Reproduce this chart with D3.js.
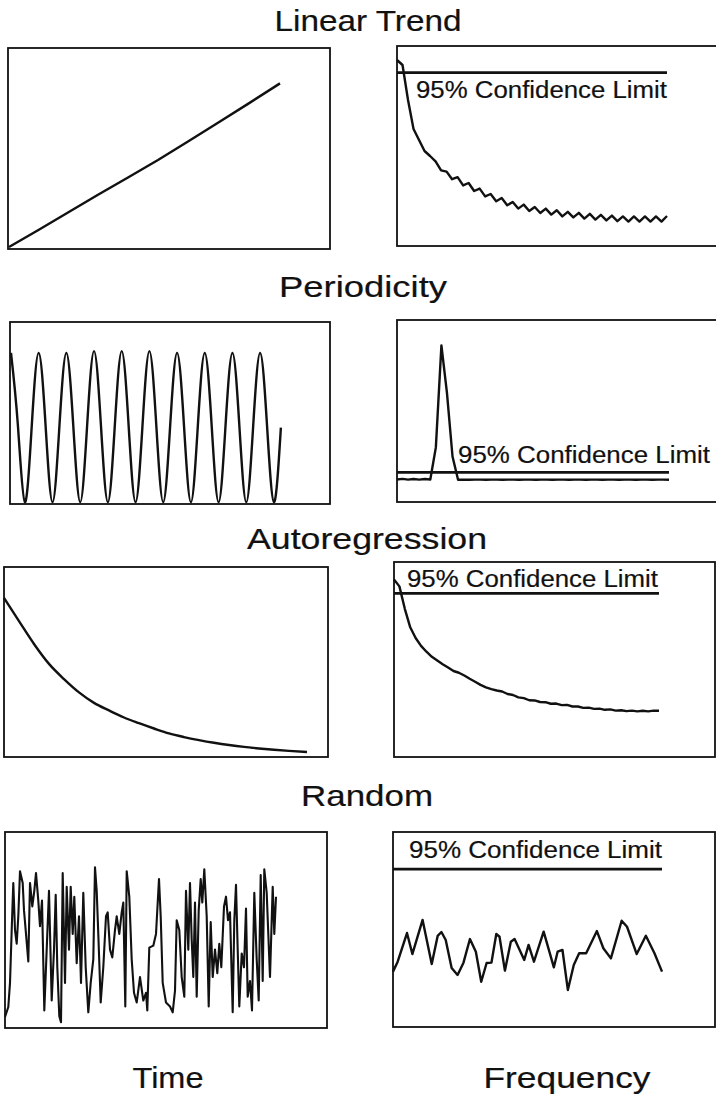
<!DOCTYPE html>
<html>
<head>
<meta charset="utf-8">
<script src="https://cdn.jsdelivr.net/npm/d3@7"></script>
<style>
  html, body { margin: 0; padding: 0; background: #fff; }
  svg { display: block; }
  text { font-family: "Liberation Sans", Arial, Helvetica, sans-serif; fill: #111; stroke: #111; stroke-width: 0.2px; }
</style>
</head>
<body>
<svg id="chart" width="716" height="1096"></svg>
<script>
// ---------------- DATA ----------------
const titles = ["Linear Trend", "Periodicity", "Autoregression", "Random"];
const axisLabels = ["Time", "Frequency"];
const confLabel = "95% Confidence Limit";
// confidence limits (level in % of panel height)
const confLevels = [86.7, 16.3, 83.9, 81.0];

// Linear trend (time domain)
const linearTime = [1, 30, 60, 90, 120, 150, 180, 210, 240, 272];
const linearValues = [1, 9.3, 18.2, 27.0, 35.6, 44.3, 53.5, 62.8, 72.2, 82.4];

// Periodicity (time domain), sampled every quarter period
const periodStart = 1, periodStep = 6.92;
const periodValues = [83,43,1,43, 83,43,1,43, 83,43,1,43, 84,43,1,43, 84,43,1,43,
                      84,43,1,43, 83,43,1,43, 83,43,1,43, 83,43,1,43, 83,43,1,42];

// Autoregression (time domain)
const arTime = [0,15,30,45,60,75,90,105,120,135,150,165,180,195,210,225,240,255,270,285,303];
const arValues = [83.7,71.5,59.5,49,41,34,28.5,24.5,20.8,17.8,15,12.4,10.5,8.9,7.5,6.3,5.3,4.5,3.8,3.2,2.6];

// Random (time domain)
const randomTime = [0,3.3,5,6.7,8.3,10,11.7,13.3,15,17.7,19,21,23.3,25,27.3,29.3,31,33.3,35,37,
  39.3,41.7,44,46.7,49,50.7,52.3,54.3,56,57.7,60,61.7,64,65.7,67.7,69.3,71.7,74,76,78.3,
  80.7,83.3,85.7,88.3,90,91.7,93.3,95.7,98.3,101,102.7,105,107.3,110,111.7,114.3,116.7,118.3,120.3,121.7,
  124.3,126.7,129,131.7,135,138.3,141,142.3,144.3,148.3,151,154,155.7,157.7,161,165,167.7,170,171.7,174.3,
  176.7,179.3,181,183.3,185,186.7,188.3,190,191.7,193.7,195.7,197.3,199.3,201.7,203.7,205.7,207.7,210,212.3,214.3,
  216.3,219,221,223,225,227.7,229.3,231,232.7,234.3,236.7,239,241,242.7,245,247,249.3,251.7,253.7,255.7,
  257.7,259.3,261.7,263.3,265,267.7,269.3,271];
const randomValues = [5.6,10.7,23,50,74,50,43,57,80,74,60,48,34,74,62,70,79,65,52,65,
  9,40,70,14,40,68,31,6,3,79,23,72,40,72,48,67,33,57,23,69,
  31,8,23,35,82,70,48,13,31,57,59,40,36,50,57,48,59,64,11,80,
  67,35,18,13,26,14,18,9,41,42,48,76,57,23,13,11,8,19,55,50,
  26,16,70,40,74,45,26,64,16,60,76,64,81,57,11,54,26,40,28,43,
  31,62,67,55,59,8,55,73,40,11,38,31,61,16,24,9,69,35,14,78,
  24,81,69,48,26,72,48,67];

// Spectra (frequency domain, 0 .. 0.5)
const linearSpec = [93,90.5,73,58.5,53,47.5,45,42.3,37.8,37.2,33.4,34.4,30.3,31.5,27.5,28.7,
  24.8,26.0,22.4,24.0,20.4,22.0,18.7,20.7,17.5,19.5,16.5,18.7,15.7,17.9,14.8,17.1,14.3,16.6,
  13.7,16.1,13.2,15.6,12.8,15.2,12.4,14.8,12.2,14.8,12.2,14.8,12.2,14.8,12.2,15.0];
const periodSpec = [12.4,12.7,12.3,12.6,12.3,12.6,12.4,30,86,60,25,12.2,
  12.3,12.2,12.3,12.3,12.2,12.3,12.3,12.2,12.3,12.3,12.2,12.3,12.3,12.2,12.3,12.3,12.2,12.3,
  12.3,12.2,12.3,12.3,12.2,12.3,12.3,12.2,12.3,12.3,12.2,12.3,12.3,12.2,12.3,12.3,12.2,12.3,12.3,12.2];
const arSpec = [91,87.5,76,66.5,61,57,54,51.4,49.5,47.6,45.9,44.1,43.2,41.8,40.1,38.6,37,35.7,34.8,34.1,
  33.6,32.3,31.8,30.6,30.2,29.1,29.0,28.2,28.1,27.3,27.4,26.6,26.7,25.9,25.9,25.2,25.3,24.7,24.8,24.2,
  24.4,23.8,24.0,23.5,23.8,23.4,23.7,23.4,23.8,23.7];
const randomSpecFreq = [0,0.0087,0.026,0.036,0.055,0.072,0.083,0.090,0.098,0.109,0.120,0.131,0.143,0.154,
  0.164,0.174,0.183,0.192,0.198,0.208,0.219,0.226,0.244,0.252,0.262,0.280,0.299,0.306,0.315,0.325,
  0.336,0.346,0.359,0.379,0.391,0.405,0.425,0.435,0.453,0.470,0.486,0.5];
const randomSpec = [28.4,33.5,48.2,37.4,54.9,32.3,46.7,48.7,44.6,30.3,26.7,33.0,45.1,38.6,
  23.2,32.8,33.0,47.7,46.3,28.9,43.7,45.1,34.4,42.1,33.5,48.9,30.6,38.6,39.5,19.0,
  31.8,37.8,37.8,49.2,40.4,35.2,54.5,51.4,37.4,46.8,37.8,28.4];

// ---------------- LAYOUT ----------------
const layout = [
  { L: [8, 48, 330, 249],  R: [397, 46, 718, 246],  specEnd: 667, titleX: 368, titleY: 31,  titleW: 187, labX: 416, labY: 98,  labW: 251 },
  { L: [10, 322, 330, 504], R: [397, 320, 718, 502], specEnd: 669, titleX: 363, titleY: 297, titleW: 168, labX: 458, labY: 463, labW: 252 },
  { L: [4, 567, 328, 757],  R: [394, 562, 715, 757], specEnd: 659, titleX: 367, titleY: 549, titleW: 240, labX: 407, labY: 587, labW: 251 },
  { L: [5, 832, 327, 1028], R: [393, 832, 715, 1027], specEnd: 662, titleX: 367, titleY: 806, titleW: 132, labX: 409, labY: 858, labW: 253 }
];

const timeSeries = [
  linearTime.map((t, i) => [t, linearValues[i]]),
  periodValues.map((v, i) => [periodStart + i * periodStep, v]),
  arTime.map((t, i) => [t, arValues[i]]),
  randomTime.map((t, i) => [t, randomValues[i]])
];
const spectra = [
  linearSpec.map((v, i) => [i * 0.5 / (linearSpec.length - 1), v]),
  periodSpec.map((v, i) => [i * 0.5 / (periodSpec.length - 1), v]),
  arSpec.map((v, i) => [i * 0.5 / (arSpec.length - 1), v]),
  randomSpecFreq.map((f, i) => [f, randomSpec[i]])
];
const timeCurves = [d3.curveLinear, d3.curveNatural, d3.curveMonotoneX, d3.curveLinear];

// ---------------- DRAW ----------------
const svg = d3.select("#chart");
const ink = "#111";

layout.forEach((row, r) => {
  // title
  svg.append("text")
    .attr("x", row.titleX).attr("y", row.titleY)
    .attr("text-anchor", "middle")
    .attr("font-size", 29)
    .attr("textLength", row.titleW).attr("lengthAdjust", "spacingAndGlyphs")
    .text(titles[r]);

  // ---- left (time) panel
  const [lx0, ly0, lx1, ly1] = row.L;
  svg.append("rect")
    .attr("x", lx0).attr("y", ly0).attr("width", lx1 - lx0).attr("height", ly1 - ly0)
    .attr("fill", "none").attr("stroke", ink).attr("stroke-width", 1.8);
  const xt = d3.scaleLinear().domain([0, lx1 - lx0]).range([lx0, lx1]);
  const yt = d3.scaleLinear().domain([0, 100]).range([ly1, ly0]);
  svg.append("path")
    .datum(timeSeries[r])
    .attr("fill", "none").attr("stroke", ink)
    .attr("stroke-width", r === 3 ? 2.1 : 2.4)
    .attr("stroke-linejoin", "round")
    .attr("d", d3.line().x(d => xt(d[0])).y(d => yt(d[1])).curve(timeCurves[r]));

  // ---- right (frequency) panel
  const [rx0, ry0, rx1, ry1] = row.R;
  svg.append("rect")
    .attr("x", rx0).attr("y", ry0).attr("width", rx1 - rx0).attr("height", ry1 - ry0)
    .attr("fill", "none").attr("stroke", ink).attr("stroke-width", 1.8);
  const xf = d3.scaleLinear().domain([0, 0.5]).range([rx0, row.specEnd]);
  const yf = d3.scaleLinear().domain([0, 100]).range([ry1, ry0]);
  // confidence limit
  svg.append("path")
    .datum([[0, confLevels[r]], [0.5, confLevels[r]]])
    .attr("fill", "none").attr("stroke", ink).attr("stroke-width", 2.8)
    .attr("d", d3.line().x(d => xf(d[0])).y(d => yf(d[1])));
  // spectrum
  svg.append("path")
    .datum(spectra[r])
    .attr("fill", "none").attr("stroke", ink).attr("stroke-width", 2.4)
    .attr("stroke-linejoin", "round")
    .attr("d", d3.line().x(d => xf(d[0])).y(d => yf(d[1])));
  // label
  svg.append("text")
    .attr("x", row.labX).attr("y", row.labY)
    .attr("font-size", 23)
    .attr("textLength", row.labW).attr("lengthAdjust", "spacingAndGlyphs")
    .text(confLabel);
});

// bottom labels
svg.append("text").attr("x", 168).attr("y", 1088).attr("text-anchor", "middle")
  .attr("font-size", 29).attr("textLength", 71).attr("lengthAdjust", "spacingAndGlyphs")
  .text(axisLabels[0]);
svg.append("text").attr("x", 567).attr("y", 1088).attr("text-anchor", "middle")
  .attr("font-size", 29).attr("textLength", 167).attr("lengthAdjust", "spacingAndGlyphs")
  .text(axisLabels[1]);
</script>
</body>
</html>
